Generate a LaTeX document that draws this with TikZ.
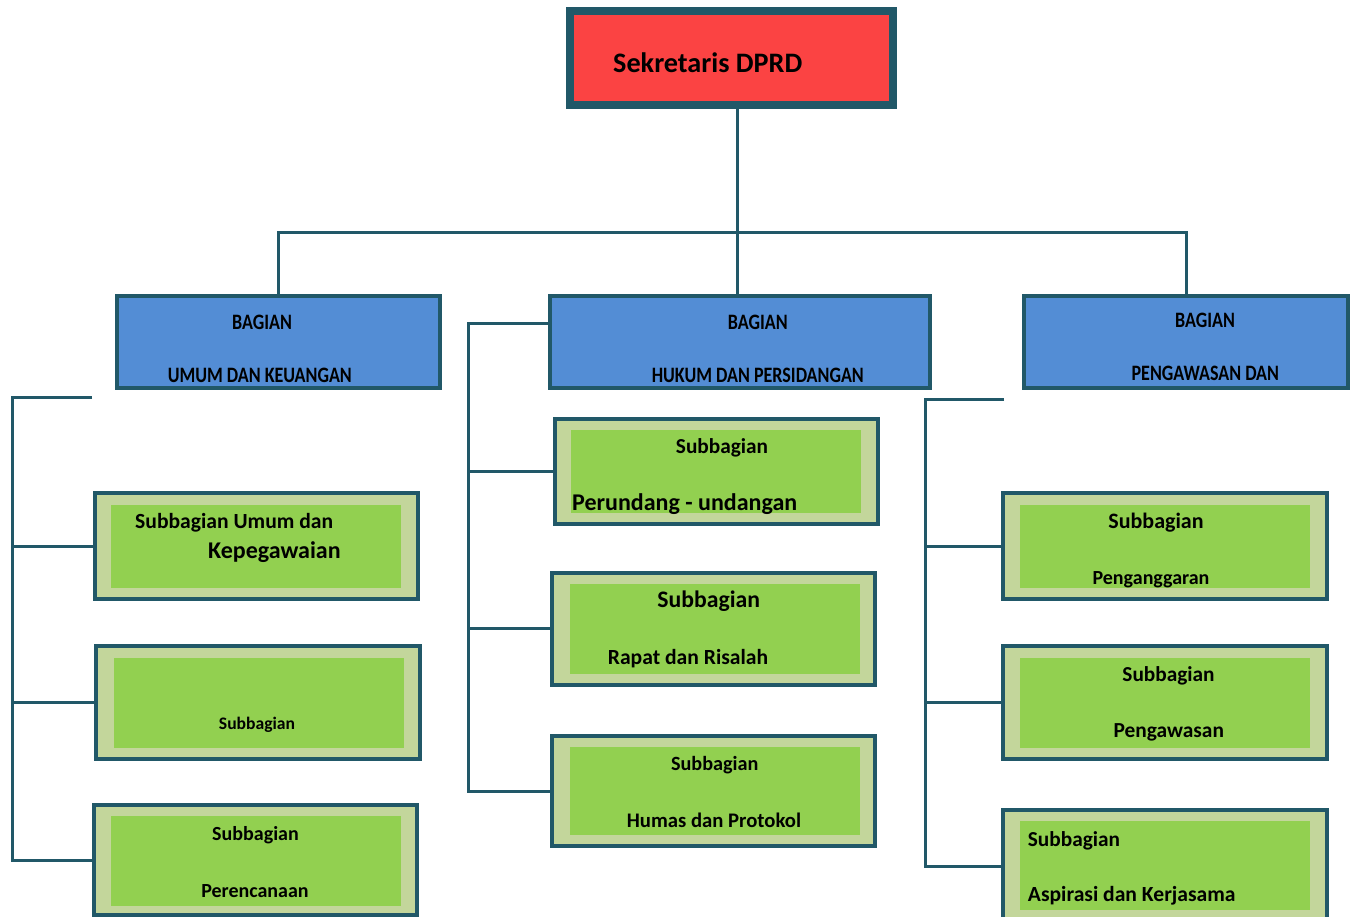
\documentclass[tikz,border=0pt]{standalone}
\usepackage{fontspec}
\setmainfont{Carlito}
\definecolor{edgec}{HTML}{215868}
\definecolor{redf}{HTML}{FB4343}
\definecolor{bluef}{HTML}{538DD5}
\definecolor{lgreen}{HTML}{C3D69B}
\definecolor{gfill}{HTML}{92D050}
\begin{document}
\begin{tikzpicture}[x=1pt,y=-1pt,
  topbox/.style={draw=edgec, line width=8pt, fill=redf, inner sep=0pt},
  bagbox/.style={draw=edgec, line width=4pt, fill=bluef, inner sep=0pt},
  subbox/.style={draw=edgec, line width=4pt, fill=lgreen, inner sep=0pt, minimum width=323pt},
  subin/.style={fill=gfill, inner sep=0pt, minimum width=290pt},
  conn/.style={draw=edgec, line width=3pt},
  txt/.style={inner sep=0pt, anchor=base, font=\fontsize{22}{26}\selectfont\bfseries},
  captxt/.style={inner sep=0pt, anchor=base, font=\fontsize{22}{26}\selectfont\bfseries\addfontfeatures{FakeStretch=0.82}}
]
\useasboundingbox (0,0) rectangle (1356,917);

% top
\node[topbox, minimum width=323pt, minimum height=94pt] (top) at (731.5,58) {};
\node[txt, anchor=base west, font=\fontsize{28.2}{33}\selectfont\bfseries] (ttop) at (613,73) {Sekretaris DPRD};

% bagian boxes
\node[bagbox, minimum width=322.7pt, minimum height=92pt] (BL) at (278.4,342) {};
\node[bagbox, minimum width=380pt, minimum height=92pt] (BM) at (740,342) {};
\node[bagbox, minimum width=324pt, minimum height=92pt] (BR) at (1186,342) {};
\node[captxt] (bl1) at (262,329) {BAGIAN};
\node[captxt] (bl2) at (259.8,382) {UMUM DAN KEUANGAN};
\node[captxt] (bm1) at (757.8,329) {BAGIAN};
\node[captxt] (bm2) at (757.8,382) {HUKUM DAN PERSIDANGAN};
\node[captxt] (br1) at (1205,327) {BAGIAN};
\node[captxt] (br2) at (1205.3,380) {PENGAWASAN DAN};

% left column
\node[subbox, minimum height=106pt] (L1) at (256.4,546) {};
\node[subin, minimum height=83pt] (L1i) at (256,546.5) {};
\node[subbox, minimum width=324pt, minimum height=113pt] (L2) at (258,702.5) {};
\node[subin, minimum height=90pt] (L2i) at (259,702.7) {};
\node[subbox, minimum height=110pt] (L3) at (255.5,860) {};
\node[subin, minimum height=90pt] (L3i) at (256,861) {};
\node[txt, anchor=base west, font=\fontsize{21.6}{26}\selectfont\bfseries] (l1a) at (135,528) {Subbagian Umum dan};
\node[txt, anchor=base west, font=\fontsize{24}{28}\selectfont\bfseries] (l1b) at (208,558.7) {Kepegawaian};
\node[txt, font=\fontsize{17.6}{20}\selectfont\bfseries] (l2a) at (257,729) {Subbagian};
\node[txt, font=\fontsize{20}{24}\selectfont\bfseries] (l3a) at (255.5,840) {Subbagian};
\node[txt, font=\fontsize{20}{24}\selectfont\bfseries] (l3b) at (255,897) {Perencanaan};

% middle column
\node[subbox, minimum height=105pt] (M1) at (716.4,471.5) {};
\node[subin, minimum height=82.7pt] (M1i) at (716,471.3) {};
\node[subbox, minimum height=112pt] (M2) at (713.9,628.7) {};
\node[subin, minimum height=90pt] (M2i) at (715,629) {};
\node[subbox, minimum height=110pt] (M3) at (713.9,791) {};
\node[subin, minimum height=88pt] (M3i) at (715,791) {};
\node[txt, font=\fontsize{21.3}{25}\selectfont\bfseries] (m1a) at (722,453) {Subbagian};
\node[txt, anchor=base west, font=\fontsize{24}{28}\selectfont\bfseries] (m1b) at (572,510.7) {Perundang - undangan};
\node[txt, font=\fontsize{23.7}{28}\selectfont\bfseries] (m2a) at (708.7,607) {Subbagian};
\node[txt, font=\fontsize{21.6}{26}\selectfont\bfseries] (m2b) at (688,664) {Rapat dan Risalah};
\node[txt, font=\fontsize{20.2}{24}\selectfont\bfseries] (m3a) at (714.7,770.7) {Subbagian};
\node[txt, font=\fontsize{20.7}{24}\selectfont\bfseries] (m3b) at (714,827.7) {Humas dan Protokol};

% right column
\node[subbox, minimum width=323.7pt, minimum height=106pt] (R1) at (1164.9,546) {};
\node[subin, minimum height=82.7pt] (R1i) at (1165,546.4) {};
\node[subbox, minimum width=323.7pt, minimum height=113pt] (R2) at (1164.9,702.5) {};
\node[subin, minimum height=90pt] (R2i) at (1165,702.7) {};
\node[subbox, minimum width=323.7pt, minimum height=112pt] (R3) at (1164.9,866) {};
\node[subin, minimum height=89.3pt] (R3i) at (1165,865.4) {};
\node[txt] (r1a) at (1156,528.7) {Subbagian};
\node[txt, font=\fontsize{20}{24}\selectfont\bfseries] (r1b) at (1151,584) {Penganggaran};
\node[txt, font=\fontsize{21.3}{25}\selectfont\bfseries] (r2a) at (1168.5,681.7) {Subbagian};
\node[txt, font=\fontsize{21.4}{25}\selectfont\bfseries] (r2b) at (1168.8,737.3) {Pengawasan};
\node[txt, anchor=base west, font=\fontsize{21.3}{25}\selectfont\bfseries] (r3a) at (1027.7,846) {Subbagian};
\node[txt, anchor=base west, font=\fontsize{21.6}{26}\selectfont\bfseries] (r3b) at (1027.7,901) {Aspirasi dan Kerjasama};

% connectors: top level
\coordinate (hub) at (737,233);
\draw[conn] (top.south -| hub) -- (hub);
\draw[conn] (BL.north) -- (BL.north |- hub) -- (BR.north |- hub) -- (BR.north);
\draw[conn] (hub) -- (hub |- BM.north);

% left bracket
\coordinate (lt) at (92,397);
\coordinate (lv) at (12,397);
\draw[conn] (lt) -- (lv) |- (L3.west);
\draw[conn] (L1.west) -- (L1.west -| lv);
\draw[conn] (L2.west) -- (L2.west -| lv);

% middle bracket
\coordinate (mv) at (468,323);
\draw[conn] ([yshift=19pt]BM.west) -- (mv) |- (M3.west);
\draw[conn] (M1.west) -- (M1.west -| mv);
\draw[conn] (M2.west) -- (M2.west -| mv);

% right bracket
\coordinate (rt) at (1004,399);
\coordinate (rv) at (925,399);
\draw[conn] (rt) -- (rv) |- (R3.west);
\draw[conn] (R1.west) -- (R1.west -| rv);
\draw[conn] (R2.west) -- (R2.west -| rv);
\end{tikzpicture}
\end{document}
